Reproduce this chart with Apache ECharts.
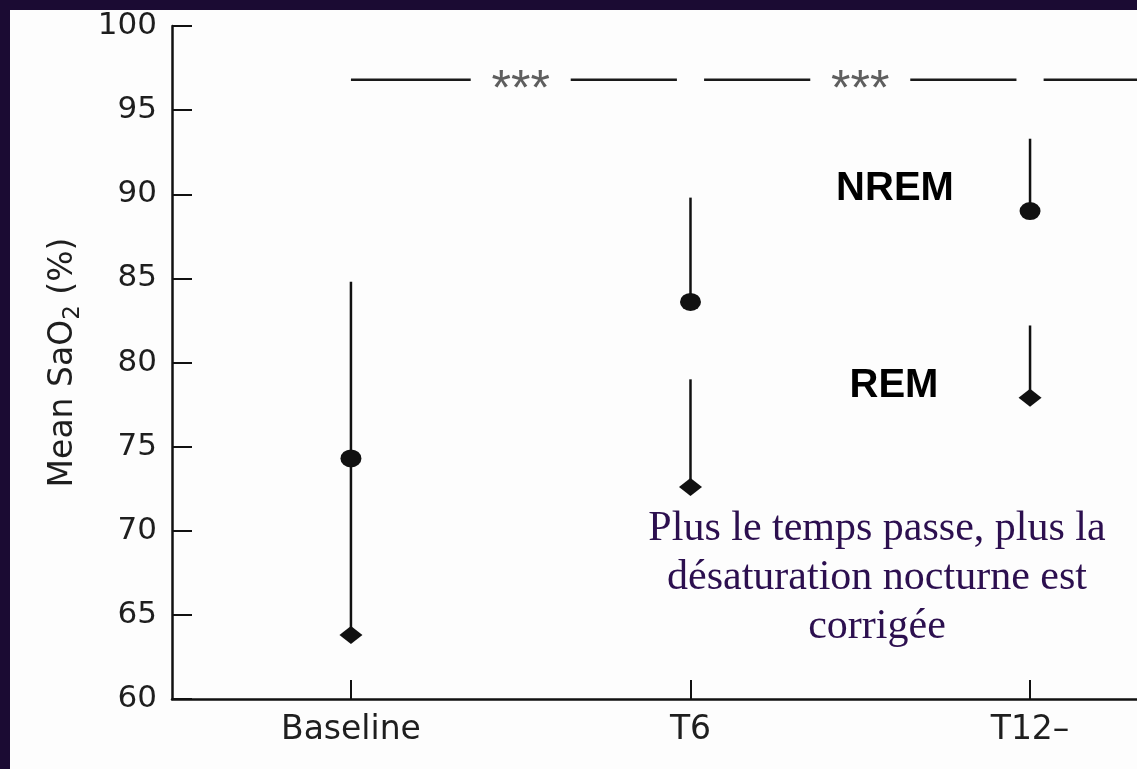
<!DOCTYPE html>
<html>
<head>
<meta charset="utf-8">
<script src="https://cdn.jsdelivr.net/npm/echarts@6/dist/echarts.min.js"></script>
<style>
  html, body { margin: 0; padding: 0; background: #1b0b33; width: 1137px; height: 769px; overflow: hidden; }
  #chart { position: absolute; left: 10px; top: 10px; width: 1127px; height: 759px; background: #fdfdfd; }
</style>
</head>
<body>
<div id="chart"></div>
<script>
// Time points
const categories = ['Baseline', 'T6', 'T12–'];
// Mean SaO2 (%) during non-REM sleep (circles) and its upper bar
const nremMean = [74.3, 83.6, 89.0];
const nremUpper = [84.8, 89.8, 93.3];
// Mean SaO2 (%) during REM sleep (diamonds) and its upper bar
const remMean = [63.8, 72.6, 77.9];
const remUpper = [74.3, 79.0, 82.2];
// Pairwise comparisons drawn as the bracket line at the top
const comparisons = [[0, 1, '***'], [1, 2, '***'], [2, 3, '***']];
const comparisonLevel = 96.8;
// Y axis range
const yMin = 60, yMax = 100, yStep = 5;

const chart = echarts.init(document.getElementById('chart'));

const barData = [];
categories.forEach((c, i) => {
  barData.push([i, nremMean[i], nremUpper[i]]);
  barData.push([i, remMean[i], remUpper[i]]);
});

const labelFont = '"DejaVu Sans", "Liberation Sans", Arial, sans-serif';
const ink = '#111';

chart.setOption({
  animation: false,
  grid: { left: 162, top: 16, right: 0, bottom: 70, containLabel: false },
  xAxis: {
    type: 'value',
    min: -0.527,
    max: 2.315,
    axisLine: { onZero: false, lineStyle: { color: ink, width: 2.5 } },
    axisTick: { inside: true, length: 19, customValues: [0, 1, 2], lineStyle: { color: ink, width: 2 } },
    axisLabel: {
      customValues: [0, 1, 2],
      formatter: v => categories[Math.round(v)],
      margin: 15,
      color: '#1e1e1e',
      fontSize: 33,
      fontFamily: labelFont
    },
    splitLine: { show: false }
  },
  yAxis: {
    type: 'value',
    min: yMin,
    max: yMax,
    interval: yStep,
    name: '{a|Mean SaO}{s|2}{a| (%)}',
    nameLocation: 'middle',
    nameGap: 87,
    nameRotate: 90,
    nameTextStyle: {
      color: '#1e1e1e',
      rich: {
        a: { fontSize: 33, fontFamily: labelFont, color: '#1e1e1e', lineHeight: 44, verticalAlign: 'middle' },
        s: { fontSize: 23, fontFamily: labelFont, color: '#1e1e1e', lineHeight: 22, verticalAlign: 'bottom' }
      }
    },
    axisLine: { show: true, onZero: false, lineStyle: { color: ink, width: 2.5 } },
    axisTick: { show: true, inside: true, length: 20, lineStyle: { color: ink, width: 2 } },
    axisLabel: { margin: 15, color: '#1e1e1e', fontSize: 31, fontFamily: labelFont },
    splitLine: { show: false }
  },
  series: [
    {
      name: 'bars',
      type: 'custom',
      data: barData,
      z: 2,
      renderItem: (params, api) => {
        const x = api.value(0);
        const p1 = api.coord([x, api.value(1)]);
        const p2 = api.coord([x, api.value(2)]);
        return {
          type: 'line',
          shape: { x1: p1[0], y1: p1[1], x2: p2[0], y2: p2[1] },
          style: { stroke: ink, lineWidth: 2.5 }
        };
      }
    },
    {
      name: 'comparisons',
      type: 'custom',
      data: comparisons.map(c => [c[0], c[1], comparisonLevel]),
      z: 2,
      renderItem: (params, api) => {
        const a = api.value(0), b = api.value(1), lvl = api.value(2);
        const idx = params.dataIndex;
        const cs = params.coordSys;
        const right = cs.x + cs.width;
        const unit = api.size([1, 0])[0];
        const pad = idx === 0 ? 0 : 0.04 * unit;
        const pa = api.coord([a, lvl]);
        const pb = api.coord([b, lvl]);
        const mid = (pa[0] + pb[0]) / 2;
        const half = 50;
        const y = pa[1];
        const children = [];
        const seg = (x1, x2) => {
          x2 = Math.min(x2, right);
          if (x1 >= right || x2 <= x1) return;
          children.push({ type: 'line', shape: { x1, y1: y, x2, y2: y }, style: { stroke: '#1a1a1a', lineWidth: 2.5 } });
        };
        seg(pa[0] + pad, mid - half);
        seg(mid + half, pb[0] - 0.04 * unit);
        if (mid < right) {
          children.push({
            type: 'text',
            x: mid, y: y + 11,
            style: {
              text: comparisons[idx][2],
              align: 'center', verticalAlign: 'middle',
              font: '50px "Liberation Sans", Arial, sans-serif',
              fill: '#5e5e5e'
            }
          });
        }
        return { type: 'group', children };
      }
    },
    {
      name: 'NREM',
      type: 'scatter',
      symbol: 'circle',
      symbolSize: [21, 18],
      itemStyle: { color: ink, opacity: 1 },
      z: 3,
      data: nremMean.map((v, i) => [i, v])
    },
    {
      name: 'REM',
      type: 'scatter',
      symbol: 'diamond',
      symbolSize: [23, 18],
      itemStyle: { color: ink, opacity: 1 },
      z: 3,
      data: remMean.map((v, i) => [i, v])
    }
  ],
  graphic: [
    {
      type: 'text', x: 885, y: 179,
      style: { text: 'NREM', align: 'center', verticalAlign: 'middle', font: 'bold 40px "Liberation Sans", Arial, sans-serif', fill: '#000' }
    },
    {
      type: 'text', x: 884, y: 376,
      style: { text: 'REM', align: 'center', verticalAlign: 'middle', font: 'bold 40px "Liberation Sans", Arial, sans-serif', fill: '#000' }
    },
    {
      type: 'text', x: 867, y: 568,
      style: {
        text: 'Plus le temps passe, plus la\ndésaturation nocturne est\ncorrigée',
        align: 'center', verticalAlign: 'middle',
        font: '42px "Liberation Serif", "Times New Roman", serif',
        lineHeight: 49,
        fill: '#2c0f4f'
      }
    }
  ]
});
</script>
</body>
</html>
